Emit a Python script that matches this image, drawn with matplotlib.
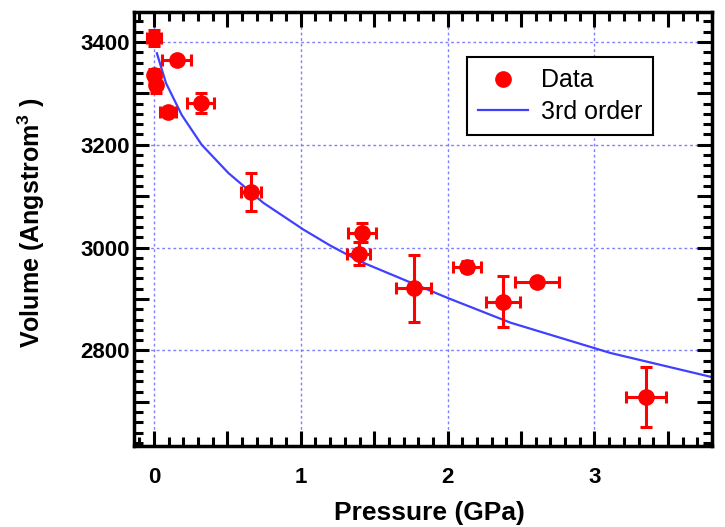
import numpy as np
import matplotlib.pyplot as plt
from matplotlib.lines import Line2D
from matplotlib.ticker import MultipleLocator, FuncFormatter

# measured data (pressure in GPa, volume in A^3)
pressure = [0.00, 0.155, 0.00, 0.012, 0.098, 0.318, 0.661, 1.416, 1.393, 1.768, 2.131, 2.375, 2.609, 3.352]
volume = [3408, 3364, 3336, 3316, 3264, 3281, 3109, 3029, 2988, 2921, 2963, 2895, 2933, 2709]
p_err = [0.045, 0.10, 0.03, 0.03, 0.055, 0.094, 0.068, 0.097, 0.08, 0.117, 0.097, 0.115, 0.148, 0.136]
v_err = [16, 5, 12, 16, 8, 19, 37, 18, 22, 65, 10, 50, 8, 59]

# 3rd order fit curve
fit_p = [0.02, 0.082, 0.189, 0.325, 0.507, 0.745, 1.018, 1.2, 1.404, 2.0, 2.427, 3.108, 3.80]
fit_v = [3378, 3320, 3258, 3200, 3145, 3087, 3035, 3004, 2973, 2902, 2854, 2795, 2748]

plt.rcParams['font.family'] = ['Liberation Sans', 'DejaVu Sans']
plt.rcParams['mathtext.fontset'] = 'custom'
plt.rcParams['mathtext.bf'] = 'Liberation Sans:bold'
plt.rcParams['mathtext.rm'] = 'Liberation Sans:bold'

fig = plt.figure(figsize=(7.25, 5.27), dpi=100)
ax = fig.add_axes([0.1848, 0.1537, 0.7972, 0.8233])

ax.errorbar(pressure, volume, xerr=p_err, yerr=v_err, fmt='o', color='#ff0000',
            ms=11, elinewidth=2.2, capsize=4, capthick=2.2, zorder=3)
ax.plot(fit_p, fit_v, color='#4040ff', lw=1.6, zorder=2)

ax.set_xlim(-0.136, 3.80)
ax.set_ylim(2614, 3458)

ax.xaxis.set_major_locator(MultipleLocator(0.5))
ax.xaxis.set_minor_locator(MultipleLocator(0.1))
ax.yaxis.set_major_locator(MultipleLocator(100))
ax.yaxis.set_minor_locator(MultipleLocator(20))
ax.xaxis.set_major_formatter(FuncFormatter(lambda v, p: '%d' % round(v) if abs(v - round(v)) < 1e-6 else ''))
ax.yaxis.set_major_formatter(FuncFormatter(lambda v, p: '%d' % round(v) if round(v) % 200 == 0 else ''))

ax.tick_params(which='both', direction='in', top=True, right=True, width=2.2,
               labelsize=16)
ax.tick_params(which='major', length=11)
ax.tick_params(which='minor', length=6.5)
ax.tick_params(axis='x', which='major', pad=15)
ax.tick_params(axis='y', which='major', pad=3)
for lbl in ax.get_xticklabels() + ax.get_yticklabels():
    lbl.set_fontweight('bold')

for s in ax.spines.values():
    s.set_linewidth(2.5)

# dotted grid at labelled values
for gx in [0, 1, 2, 3]:
    ax.axvline(gx, color='#8080ff', lw=1, ls=(0, (2, 2)), zorder=1)
for gy in [2800, 3000, 3200, 3400]:
    ax.axhline(gy, color='#8080ff', lw=1, ls=(0, (2, 2)), zorder=1)

ax.set_xlabel('Pressure (GPa)', fontsize=19, fontweight='bold')
ax.xaxis.set_label_coords(0.512, -0.126)
ax.set_ylabel(r'Volume (Angstrom$^{3}$ )', fontsize=18, fontweight='bold')
ax.yaxis.set_label_coords(-0.15, 0.515)

handles = [Line2D([], [], ls='none', marker='o', color='#ff0000', ms=11),
           Line2D([], [], color='#4040ff', lw=1.6)]
leg = ax.legend(handles, ['Data', '3rd order'], loc='upper left', bbox_to_anchor=(0.576, 0.896),
                borderaxespad=0, fontsize=18, frameon=True, fancybox=False, edgecolor='black',
                framealpha=1, handlelength=2.0, handletextpad=0.5, borderpad=0.45, labelspacing=0.3)
leg.get_frame().set_linewidth(1.5)

fig.savefig('out.png', dpi=100)
